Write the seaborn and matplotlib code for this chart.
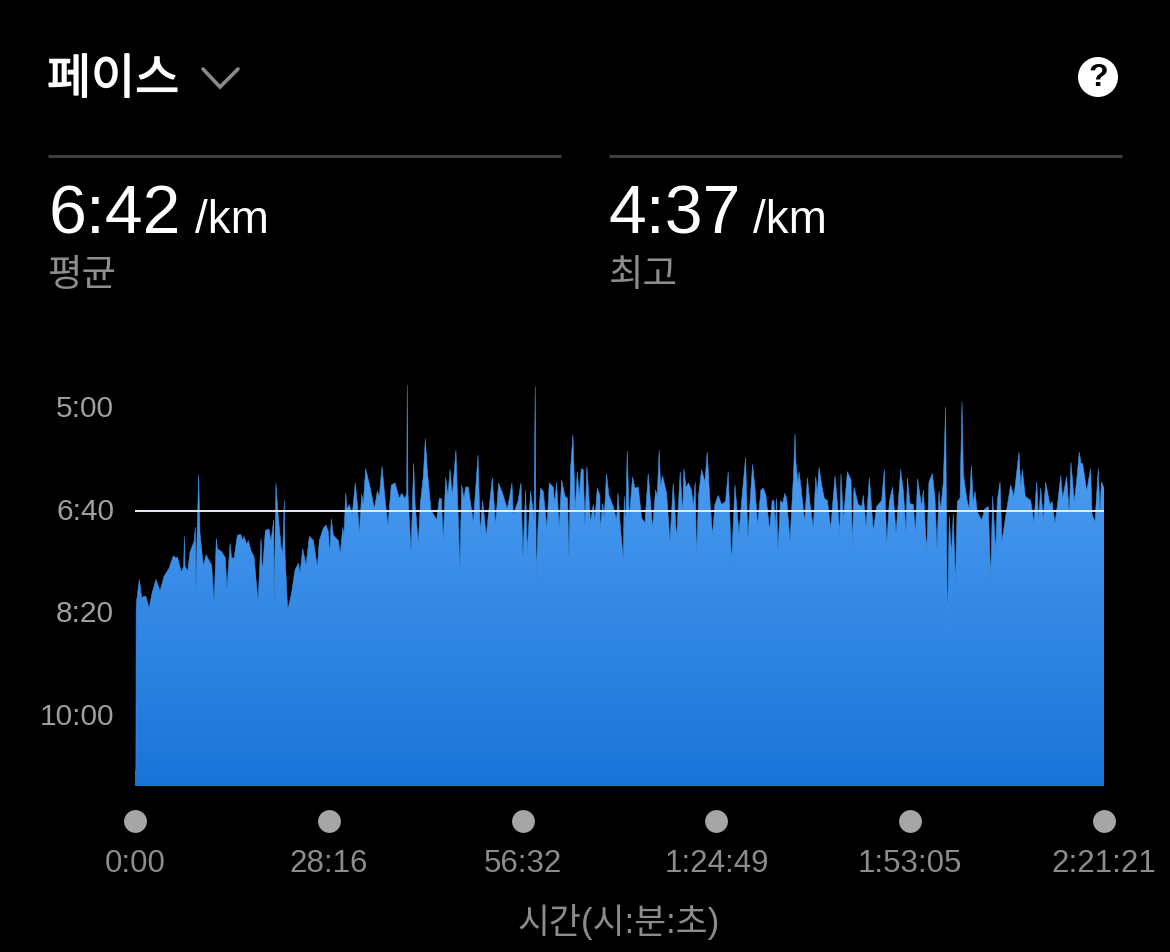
import matplotlib
matplotlib.use("Agg")
import matplotlib.patheffects as pe
import matplotlib.pyplot as plt
import numpy as np
import seaborn as sns
from matplotlib.colors import LinearSegmentedColormap
from matplotlib.patches import Circle

# elapsed time (s) and pace (s per km)
times = [
    0, 8, 10, 15, 38, 59, 79, 97, 123, 152, 184, 219, 254, 298, 336, 359, 371, 406, 426, 432, 438, 461, 482, 517,
    528, 534, 543, 557, 569, 598, 622, 671, 692, 712, 721, 759, 791, 805, 832, 846, 867, 896, 925, 942, 954, 977,
    992, 1012, 1042, 1077, 1103, 1115, 1141, 1173, 1190, 1214, 1217, 1234, 1249, 1278, 1292, 1307, 1313, 1336,
    1371, 1400, 1430, 1444, 1468, 1497, 1526, 1561, 1596, 1613, 1648, 1672, 1692, 1704, 1718, 1736, 1780, 1797,
    1818, 1829, 1844, 1858, 1873, 1902, 1928, 1946, 1963, 1984, 1998, 2019, 2057, 2095, 2121, 2138, 2162, 2188,
    2214, 2243, 2276, 2313, 2334, 2363, 2378, 2383, 2389, 2416, 2439, 2451, 2480, 2497, 2523, 2541, 2558, 2590,
    2640, 2663, 2681, 2698, 2719, 2739, 2757, 2777, 2809, 2844, 2859, 2879, 2894, 2917, 2961, 3002, 3022, 3042,
    3074, 3127, 3156, 3182, 3217, 3258, 3282, 3299, 3311, 3354, 3378, 3395, 3419, 3433, 3462, 3492, 3503, 3512,
    3527, 3550, 3573, 3605, 3626, 3661, 3672, 3690, 3713, 3734, 3763, 3786, 3798, 3812, 3833, 3853, 3871, 3888,
    3906, 3923, 3938, 3955, 3987, 4011, 4025, 4046, 4069, 4072, 4093, 4107, 4127, 4148, 4186, 4215, 4227, 4247,
    4273, 4282, 4294, 4308, 4326, 4355, 4375, 4405, 4434, 4463, 4492, 4530, 4556, 4571, 4588, 4600, 4617, 4653,
    4682, 4711, 4740, 4772, 4793, 4804, 4822, 4845, 4871, 4886, 4903, 4915, 4933, 4959, 4988, 5008, 5032, 5055,
    5075, 5105, 5134, 5169, 5192, 5207, 5221, 5251, 5286, 5318, 5344, 5364, 5382, 5405, 5426, 5449, 5478, 5498,
    5522, 5554, 5577, 5592, 5604, 5615, 5627, 5650, 5668, 5688, 5703, 5733, 5762, 5777, 5785, 5803, 5812, 5829,
    5861, 5885, 5908, 5937, 5958, 5972, 5987, 6010, 6033, 6060, 6089, 6127, 6141, 6168, 6179, 6200, 6235, 6267,
    6278, 6293, 6331, 6360, 6375, 6398, 6427, 6462, 6491, 6535, 6558, 6579, 6602, 6631, 6661, 6701, 6725, 6748,
    6760, 6783, 6812, 6830, 6850, 6885, 6900, 6929, 6949, 6979, 7002, 7019, 7037, 7051, 7075, 7095, 7110, 7127,
    7145, 7162, 7180, 7197, 7221, 7238, 7250, 7279, 7300, 7320, 7337, 7352, 7372, 7410, 7439, 7469, 7489, 7506,
    7533, 7547, 7571, 7588, 7629, 7664, 7693, 7737, 7752, 7766, 7792, 7839, 7868, 7892, 7909, 7927, 7950, 7970,
    8008, 8026, 8052, 8075, 8102, 8119, 8154, 8177, 8192, 8221, 8242, 8265, 8280, 8294, 8329, 8364, 8376, 8402,
    8431, 8446, 8458, 8478, 8481,
]
paces = [
    655, 655, 500, 489, 469, 487, 485, 486, 497, 481, 469, 480, 466, 458, 446, 448, 447, 462, 456, 427, 456, 461, 442, 432,
    418, 481, 427, 367, 424, 456, 445, 455, 492, 429, 439, 442, 448, 479, 434, 448, 448, 426, 425, 431, 427, 435,
    431, 440, 447, 491, 429, 463, 421, 420, 432, 411, 497, 375, 401, 437, 444, 392, 444, 499,
    482, 460, 453, 463, 439, 455, 427, 431, 457, 431, 419, 416, 422, 445, 410, 426, 431, 444,
    418, 426, 385, 401, 396, 405, 375, 395, 424, 386, 395, 361, 379, 400, 383, 388, 359, 390,
    416, 377, 375, 390, 385, 390, 385, 280, 385, 442, 356, 395, 434, 395, 369, 332, 362, 401,
    411, 390, 390, 431, 370, 387, 362, 387, 343, 458, 377, 390, 379, 379, 413, 348, 424, 392,
    426, 370, 416, 375, 385, 400, 387, 375, 406, 392, 375, 447, 382, 442, 383, 409, 281, 468,
    418, 380, 383, 418, 375, 379, 395, 375, 418, 372, 388, 390, 448, 362, 328, 401, 364, 387,
    361, 362, 416, 359, 413, 396, 411, 380, 387, 421, 395, 408, 366, 387, 398, 411, 385, 416,
    448, 388, 418, 344, 409, 369, 380, 379, 409, 414, 366, 419, 382, 387, 343, 379, 368, 385,
    432, 375, 429, 364, 405, 361, 379, 375, 382, 398, 374, 447, 387, 362, 374, 345, 392, 426,
    396, 387, 396, 393, 364, 411, 453, 377, 424, 382, 350, 429, 395, 357, 379, 416, 382, 380,
    387, 421, 392, 392, 418, 390, 440, 392, 395, 385, 390, 431, 370, 327, 356, 375, 364, 379,
    413, 370, 395, 419, 369, 385, 360, 377, 390, 392, 419, 368, 385, 424, 366, 411, 364, 372,
    437, 379, 396, 398, 387, 418, 370, 422, 398, 392, 362, 435, 393, 379, 424, 362, 383, 422,
    370, 395, 396, 424, 371, 398, 382, 442, 374, 366, 390, 439, 383, 401, 374, 301, 518, 408,
    445, 405, 474, 393, 390, 296, 366, 390, 400, 358, 395, 383, 403, 411, 400, 398, 469, 388,
    442, 392, 374, 432, 401, 377, 388, 345, 379, 362, 388, 392, 413, 374, 411, 380, 411, 374,
    396, 393, 414, 395, 368, 390, 369, 405, 355, 393, 372, 345, 356, 356, 383, 361, 405, 413,
    361, 405, 374, 379, 380,
]
avg_pace = 402

pace_ticks = [300, 400, 500, 600]
pace_labels = ["5:00", "6:40", "8:20", "10:00"]
time_ticks = [0, 1696, 3392, 5089, 6785, 8481]
time_labels = ["0:00", "28:16", "56:32", "1:24:49", "1:53:05", "2:21:21"]
dot_level = [704] * len(time_ticks)

W, H = 1170, 952
sns.set_theme(style="dark")
plt.rcParams["font.family"] = ["Liberation Sans", "Noto Sans CJK KR", "DejaVu Sans"]

fig = plt.figure(figsize=(W / 100, H / 100), dpi=100, facecolor="black")
ax = fig.add_axes([135 / W, 1 - 786 / H, (1104 - 135) / W, (786 - 370) / H], facecolor="black")

ax.set_xlim(0, 8481)
ax.set_ylim(670, 265)

# gradient fill clipped to the area under the curve
blues = LinearSegmentedColormap.from_list(
    "pace", [(0, "#5AA6F4"), (0.3, "#4597EE"), (1, "#1A74D8")]
)
area = ax.fill_between(times, paces, 670, color="none", lw=0)
grad = ax.imshow(
    np.linspace(0, 1, 256).reshape(-1, 1), cmap=blues, aspect="auto",
    extent=[0, 8481, 670, 265], zorder=1
)
grad.set_clip_path(area.get_paths()[0], transform=ax.transData)
ax.set_xlim(0, 8481)
ax.set_ylim(670, 265)

sns.lineplot(x=times, y=paces, ax=ax, sort=False, estimator=None, color="#3F8FE0", lw=0.4, zorder=2)
ax.plot([0, 8481], [avg_pace, avg_pace], color="#E8EEF4", lw=1.4, zorder=3)

sns.scatterplot(
    x=time_ticks, y=dot_level, ax=ax, color="#A6A6A6", s=270,
    linewidth=0, clip_on=False, zorder=4
)

ax.set_yticks(pace_ticks, pace_labels)
ax.set_xticks(time_ticks, time_labels)
ax.tick_params(axis="y", length=0, pad=15, labelsize=21.5, labelcolor="#A0A0A0")
ax.tick_params(axis="x", length=0, pad=45, labelsize=22.5, labelcolor="#8C8C8C")
ax.grid(False)
sns.despine(ax=ax, left=True, bottom=True)

# header furniture, in pixel coordinates
top = fig.add_axes([0, 0, 1, 1], facecolor="none")
top.set_xlim(0, W)
top.set_ylim(H, 0)
top.axis("off")

title = top.text(47, 81, "페이스", color="white", fontsize=34.5, va="center", ha="left")
title.set_path_effects([pe.withStroke(linewidth=1.0, foreground="white")])
top.plot([203, 220, 238], [69, 87, 69], color="#8A8A8A", lw=2.6, solid_joinstyle="miter")
top.add_patch(Circle((1098, 77), 20, color="white", lw=0))
top.text(1098, 78, "?", color="black", fontsize=23, fontweight="bold", va="center", ha="center")

top.plot([48, 561], [156, 156], color="#3E3E3E", lw=2.2, solid_capstyle="butt")
top.plot([609, 1122], [156, 156], color="#3E3E3E", lw=2.2, solid_capstyle="butt")

top.text(48, 233, "6:42", color="white", fontsize=49, va="baseline")
top.text(195, 233, "/km", color="white", fontsize=33, va="baseline")
top.text(609, 233, "4:37", color="white", fontsize=49, va="baseline")
top.text(753, 233, "/km", color="white", fontsize=33, va="baseline")
top.text(47, 276, "평균", color="#8E8E8E", fontsize=27, va="center")
top.text(609, 276, "최고", color="#8E8E8E", fontsize=27, va="center")
top.text(619, 922, "시간(시:분:초)", color="#8C8C8C", fontsize=25, va="center", ha="center")

fig.savefig("out.png", dpi=100, facecolor="black")
